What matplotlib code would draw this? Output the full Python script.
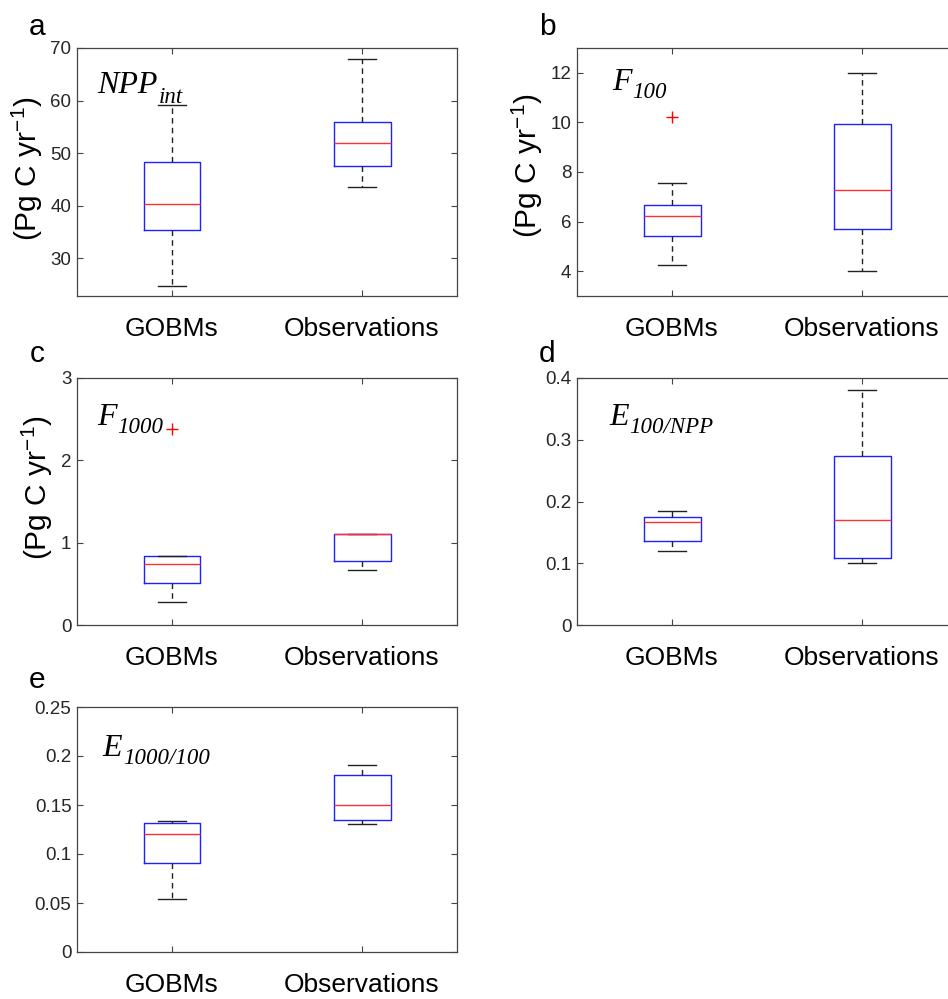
import matplotlib
matplotlib.use("Agg")
import matplotlib.pyplot as plt
from matplotlib.ticker import FuncFormatter

plt.rcParams['font.family'] = ['Liberation Sans', 'DejaVu Sans']
plt.rcParams['mathtext.fontset'] = 'custom'
plt.rcParams['mathtext.rm'] = 'Liberation Sans'
plt.rcParams['mathtext.it'] = 'Liberation Sans:italic'

# ---------------- data ----------------
categories = ['GOBMs', 'Observations']
panel_letters = ['a', 'b', 'c', 'd', 'e']
title_main = ['NPP', 'F', 'F', 'E', 'E']
title_sub = ['int', '100', '1000', '100/NPP', '1000/100']
ylabel_text = r'(Pg C yr$^{-1}$)'

# each: [whislo, q1, med, q3, whishi] for GOBMs, Observations
npp_gobm = [24.8, 35.4, 40.3, 48.3, 59.1]
npp_obs = [43.5, 47.6, 52.0, 55.9, 67.9]
npp_fliers = [[], []]

f100_gobm = [4.25, 5.41, 6.24, 6.66, 7.54]
f100_obs = [4.0, 5.7, 7.29, 9.95, 12.0]
f100_fliers = [[10.2], []]

f1000_gobm = [0.283, 0.514, 0.736, 0.835, 0.835]
f1000_obs = [0.663, 0.772, 1.10, 1.10, 1.10]
f1000_fliers = [[2.38], []]

e100_gobm = [0.120, 0.136, 0.167, 0.175, 0.184]
e100_obs = [0.0997, 0.109, 0.170, 0.273, 0.380]
e100_fliers = [[], []]

e1000_gobm = [0.0544, 0.0912, 0.1207, 0.132, 0.134]
e1000_obs = [0.1303, 0.135, 0.150, 0.1806, 0.1905]
e1000_fliers = [[], []]

ylims = [(22.85, 70), (3, 13), (0, 3), (0, 0.4), (0, 0.25)]
yticks = [[30, 40, 50, 60, 70], [4, 6, 8, 10, 12], [0, 1, 2, 3],
          [0, 0.1, 0.2, 0.3, 0.4], [0, 0.05, 0.1, 0.15, 0.2, 0.25]]

panels = [(npp_gobm, npp_obs, npp_fliers), (f100_gobm, f100_obs, f100_fliers),
          (f1000_gobm, f1000_obs, f1000_fliers), (e100_gobm, e100_obs, e100_fliers),
          (e1000_gobm, e1000_obs, e1000_fliers)]

# ---------------- layout ----------------
W, H = 948, 999
fig = plt.figure(figsize=(W / 100, H / 100), dpi=100)

# pixel boxes: left, right, top, bottom
boxes_px = [(77, 457, 48, 296), (577, 957, 48, 296), (77, 457, 378, 625),
            (577, 957, 378, 625), (77, 457, 707, 952)]
letter_px = [(29, 35), (539, 35), (30, 362), (539, 362), (29, 688)]
title_pos = [(0.053, 0.82), (0.092, 0.83), (0.053, 0.81), (0.084, 0.81), (0.068, 0.80)]
sub_drop = [10, 8, 8, 8, 8]  # pixels
ylabel_pos = [(-0.1316, 0.514), (-0.1316, 0.524), (-0.105, 0.557), None, None]

spine_col = '#444444'
serif_it = dict(family='Liberation Serif', style='italic')

mains = []
for i, (gob, obs, fl) in enumerate(panels):
    l, r, t, b = boxes_px[i]
    ax = fig.add_axes([l / W, 1 - b / H, (r - l) / W, (b - t) / H])
    stats = []
    for name, s, f in zip(categories, (gob, obs), fl):
        stats.append(dict(label=name, whislo=s[0], q1=s[1], med=s[2], q3=s[3],
                          whishi=s[4], fliers=f))
    ax.bxp(stats, positions=[1, 2], widths=0.3, capwidths=0.15,
           boxprops=dict(color='#1f1fff', linewidth=1.0),
           medianprops=dict(color='#ff3030', linewidth=1.0),
           whiskerprops=dict(color='#222222', linewidth=1.0, linestyle=(0, (4, 3))),
           capprops=dict(color='#222222', linewidth=1.0),
           flierprops=dict(marker='+', markeredgecolor='red', markersize=9,
                           markeredgewidth=1.0, linestyle='none'))
    ax.set_xlim(0.5, 2.5)
    ax.set_ylim(*ylims[i])
    ax.set_yticks(yticks[i])
    ax.yaxis.set_major_formatter(FuncFormatter(lambda v, p: '%g' % v))
    ax.set_xticks([1, 2])
    ax.set_xticklabels(categories, fontsize=19, color='black')
    ax.tick_params(axis='x', direction='in', length=4, width=0.8, color=spine_col,
                   pad=15, top=True)
    ax.tick_params(axis='y', direction='in', length=4, width=0.8, color=spine_col,
                   labelsize=13.5, labelcolor='#262626', pad=4, right=True)
    for sp in ax.spines.values():
        sp.set_color(spine_col)
        sp.set_linewidth(0.9)
    tm = ax.text(title_pos[i][0], title_pos[i][1], title_main[i], transform=ax.transAxes,
                 fontsize=23, ha='left', va='baseline', color='black', **serif_it)
    mains.append((ax, tm, i))
    if ylabel_pos[i] is not None:
        ax.set_ylabel(ylabel_text, fontsize=21.5, color='black', va='center')
        ax.yaxis.set_label_coords(*ylabel_pos[i])
    lx, ly = letter_px[i]
    fig.text(lx / W, 1 - ly / H, panel_letters[i], fontsize=21.5, ha='left',
             va='baseline', color='black')

# place subscripts right after the main symbol
fig.canvas.draw()
renderer = fig.canvas.get_renderer()
for ax, tm, i in mains:
    bb = tm.get_window_extent(renderer)
    x0, y0 = ax.transAxes.transform(title_pos[i])
    fig.text((bb.x1 + 1) / W, (y0 - sub_drop[i]) / H, title_sub[i], fontsize=16.5,
             ha='left', va='baseline', color='black', **serif_it)

fig.savefig('out.png', dpi=100)
